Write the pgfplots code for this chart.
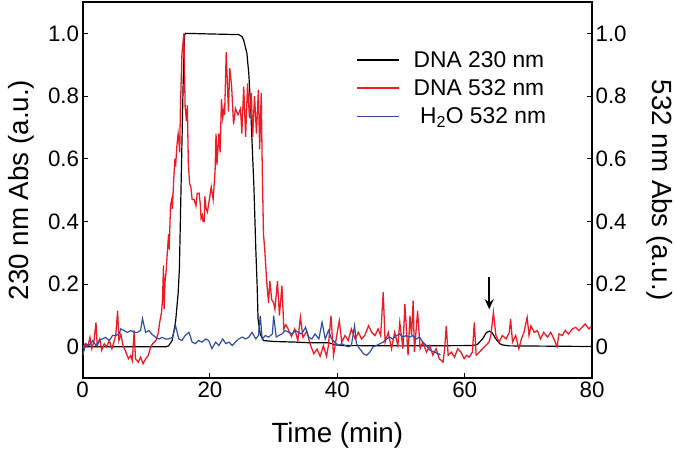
\documentclass[border=0pt]{standalone}
\usepackage{pgfplots}
\pgfplotsset{compat=1.18}
\usepackage{fontspec}
\setmainfont{Liberation Sans}
\usetikzlibrary{arrows.meta}
\definecolor{myred}{RGB}{237,28,36}
\definecolor{myblue}{RGB}{46,77,167}
\begin{document}
\begin{tikzpicture}
\pgfplotsset{
  base/.style={width=512bp, height=378bp, scale only axis,
    xmin=0, xmax=80, ymin=-0.1, ymax=1.1,
    ytick={0,0.2,0.4,0.6,0.8,1.0}, yticklabels={0,0.2,0.4,0.6,0.8,1.0},
    tick align=inside, major tick length=5bp,
    axis line style={line width=2bp},
    every tick/.style={line width=1bp, black},
    tick label style={font=\fontsize{22.5}{26}\selectfont},
    label style={font=\fontsize{28}{32}\selectfont},
    /pgf/number format/assume math mode=true}
}
\begin{axis}[base,
  xtick={0,20,40,60,80}, xtick pos=bottom, ytick pos=left,
  xlabel={Time (min)}, ylabel={230 nm Abs (a.u.)},
  xlabel style={at={(axis description cs:0.5,0)}, yshift=-65bp, anchor=base},
  ylabel style={at={(axis description cs:-0.121,0.5)}, anchor=center},
  legend style={draw=none, fill=none, at={(axis description cs:0.537,0.875)}, anchor=north west,
    font=\fontsize{23}{27}\selectfont, row sep=7bp, inner sep=0pt},
  legend cell align=left,
  legend image post style={line width=1.6bp},
  legend image code/.code={\draw[mark repeat=2,mark phase=2] plot coordinates {(0bp,0bp) (21bp,0bp) (42bp,0bp)}; \path (54bp,0bp);},
]
\addplot[black, line width=1.2bp] coordinates {
(0,0)(13.0,0.0)(13.5,0.003)(14.06,0.02)(14.6,0.08)(15.0,0.17)(15.2,0.25)(15.5,0.55)(15.8,0.85)(16.0,0.995)(16.2,1.0)(20,0.998)(24.5,0.996)(25.0,0.99)(25.3,0.978)(25.8,0.936)(26.1,0.87)(26.35,0.78)(26.9,0.51)(27.2,0.31)(27.4,0.2)(27.55,0.089)(27.9,0.04)(28.4,0.02)(30,0.017)(33.4,0.015)(35.5,0.013)(38.6,0.013)(39.8,0.006)(41,0.004)(50,0.003)(61.3,0.004)(62,0.008)(62.8,0.025)(63.4,0.045)(63.85,0.05)(64.3,0.045)(64.9,0.025)(65.5,0.01)(65.9,0.006)(67,0.003)(80,0.001)
};
\addlegendentry{DNA 230 nm}
\addplot[myred, line width=1.3bp] coordinates {
(0,-0.006)(0.4,0.01)(0.8,0.0)(1.15,0.03)(1.45,-0.006)(1.8,0.02)(2.1,0.078)(2.3,0.004)(2.7,0.025)(3.0,-0.011)(3.4,0.01)(3.75,0.0)(4.2,0.02)(4.6,-0.006)(4.9,0.015)(5.2,0.036)(5.5,0.115)(5.7,0.02)(6.0,0.04)(6.35,0.004)(6.8,-0.017)(7.2,-0.038)(7.55,-0.028)(7.8,-0.044)(8.1,0.052)(8.3,-0.038)(8.75,-0.049)(9.1,-0.033)(9.5,-0.054)(9.9,-0.038)(10.3,-0.028)(10.7,0.0)(11.0,0.01)(11.5,0.02)(11.9,0.046)(12.1,0.078)(12.4,0.11)(12.55,0.152)(12.7,0.26)(12.8,0.12)(12.95,0.21)(13.1,0.237)(13.3,0.30)(13.5,0.36)(13.6,0.31)(13.8,0.45)(14.0,0.47)(14.1,0.44)(14.3,0.53)(14.5,0.60)(14.6,0.575)(14.8,0.64)(15.0,0.68)(15.1,0.66)(15.25,0.62)(15.35,0.755)(15.6,0.935)(15.9,1.0)(16.1,0.766)(16.3,0.72)(16.45,0.77)(16.6,0.586)(16.8,0.52)(17.0,0.51)(17.2,0.47)(17.5,0.47)(17.8,0.45)(18.0,0.49)(18.3,0.49)(18.5,0.45)(18.6,0.41)(18.8,0.42)(18.9,0.40)(19.1,0.40)(19.2,0.48)(19.4,0.44)(19.6,0.43)(19.9,0.47)(20.2,0.51)(20.5,0.47)(20.8,0.56)(20.95,0.68)(21.1,0.58)(21.4,0.68)(21.6,0.62)(21.8,0.79)(22.0,0.73)(22.2,0.76)(22.3,0.74)(22.55,0.94)(22.9,0.75)(23.1,0.89)(23.4,0.83)(23.7,0.71)(24.0,0.76)(24.4,0.74)(24.8,0.76)(25.0,0.68)(25.3,0.83)(25.6,0.67)(25.9,0.84)(26.2,0.73)(26.5,0.81)(26.7,0.67)(27.0,0.80)(27.3,0.68)(27.6,0.82)(27.8,0.63)(28.05,0.81)(28.2,0.58)(28.4,0.36)(28.6,0.31)(28.9,0.21)(29.2,0.14)(29.4,0.21)(29.7,0.15)(30.0,0.14)(30.2,0.12)(30.6,0.21)(30.9,0.10)(31.3,0.195)(31.6,0.057)(31.9,0.07)(32.2,0.06)(32.5,0.045)(32.8,0.033)(33.3,0.057)(33.8,0.02)(34.2,0.095)(34.6,0.03)(35.2,0.05)(35.7,0.01)(36.3,-0.022)(36.8,-0.007)(37.3,-0.03)(37.8,0.003)(38.3,-0.03)(38.6,0.004)(39.0,0.099)(39.4,-0.027)(39.9,0.036)(40.3,0.083)(40.7,0.015)(41.2,0.036)(41.7,0.02)(42.2,0.057)(42.8,0.025)(43.3,0.046)(43.8,0.025)(44.3,0.036)(44.9,0.067)(45.4,0.046)(45.9,0.036)(46.4,0.057)(46.8,0.036)(47.2,0.174)(47.5,0.015)(48.0,0.046)(48.5,-0.006)(49.0,0.046)(49.5,0.004)(49.8,0.078)(50.3,-0.006)(50.6,0.136)(51.1,-0.027)(51.4,0.099)(51.65,0.036)(51.9,0.147)(52.1,-0.017)(52.6,0.115)(53.0,-0.006)(53.4,0.015)(54.0,-0.017)(54.5,0.004)(55.0,-0.027)(55.5,-0.006)(56.0,-0.038)(56.6,-0.049)(56.85,-0.006)(57.1,0.067)(57.4,-0.027)(57.9,-0.017)(58.4,-0.033)(58.9,-0.006)(59.4,-0.017)(59.9,-0.038)(60.3,-0.027)(60.7,-0.033)(61.2,-0.017)(61.5,0.078)(61.8,-0.027)(62.3,-0.017)(62.8,-0.006)(63.3,0.004)(63.8,0.015)(64.1,0.036)(64.5,0.11)(64.9,0.036)(65.4,0.015)(65.9,0.036)(66.5,0.025)(67.0,0.046)(67.2,0.089)(67.5,0.015)(68.0,0.036)(68.5,-0.006)(68.9,0.025)(69.3,0.046)(69.8,0.094)(70.1,0.036)(70.4,0.067)(70.9,0.046)(71.4,0.052)(71.9,0.025)(72.4,0.046)(73.0,0.031)(73.5,0.046)(74.0,0.025)(74.5,0.0)(74.8,0.041)(75.3,0.036)(75.8,0.052)(76.3,0.041)(76.9,0.057)(77.4,0.062)(77.9,0.052)(78.4,0.062)(78.9,0.073)(79.5,0.057)(80.0,0.067)
};
\addlegendentry{DNA 532 nm}
\addplot[myblue, line width=1.2bp] coordinates {
(0,-0.028)(0.5,0.01)(1.0,0.004)(1.6,0.02)(2.1,0.004)(2.6,0.02)(3.1,0.025)(3.6,0.03)(4.2,0.02)(4.7,0.036)(5.2,0.036)(5.7,0.04)(6.0,0.057)(6.5,0.052)(7.0,0.046)(7.6,0.052)(8.1,0.046)(8.6,0.046)(9.1,0.052)(9.4,0.09)(9.9,0.046)(10.4,0.052)(10.9,0.04)(11.5,0.03)(12.0,0.025)(12.5,0.03)(13.0,0.025)(13.5,0.025)(14.1,0.03)(14.6,0.068)(15.1,0.025)(15.6,0.02)(16.1,0.036)(16.7,0.046)(17.2,0.015)(17.7,0.01)(18.2,0.02)(18.75,0.015)(19.3,0.025)(19.8,0.02)(20.3,-0.006)(20.9,0.015)(21.4,0.004)(22.0,0.025)(22.5,0.01)(23.0,0.015)(23.5,0.004)(24.0,0.015)(24.5,0.025)(25.1,0.031)(25.6,0.025)(26.1,0.031)(26.6,0.046)(27.2,0.025)(27.6,0.036)(27.9,0.099)(28.2,0.025)(28.7,0.036)(29.2,0.031)(29.8,0.041)(30.0,0.099)(30.4,0.031)(30.8,0.036)(31.3,0.041)(31.8,0.052)(32.4,0.046)(32.9,0.041)(33.4,0.052)(33.9,0.046)(34.4,0.041)(35.0,0.062)(35.5,0.031)(36.0,0.025)(36.5,0.041)(37.1,0.025)(37.6,0.078)(38.1,0.025)(38.6,0.052)(39.1,0.025)(39.6,0.015)(40.2,0.004)(40.7,0.01)(41.2,0.004)(41.7,0.0)(42.2,0.004)(42.7,0.067)(43.0,0.01)(43.5,-0.006)(44.1,-0.022)(44.6,-0.027)(45.1,-0.017)(45.6,0.0)(46.1,0.004)(46.7,0.01)(47.2,0.015)(47.7,0.025)(48.2,0.031)(48.7,0.025)(49.3,0.036)(49.8,0.041)(50.3,0.031)(50.8,0.036)(51.4,0.031)(51.9,0.036)(52.4,0.025)(52.9,0.031)(53.4,0.015)(54.0,0.004)(54.5,-0.01)(55.0,-0.015)(55.6,-0.02)(56.2,-0.025)
};
\addlegendentry{\ H\textsubscript{2}O 532 nm}
\draw[-{Stealth[length=10bp,width=9bp]}, line width=1.8bp] (axis cs:63.85,0.222) -- (axis cs:63.85,0.12);
\end{axis}
\begin{axis}[base,
  axis x line=none, axis y line*=right, ytick pos=right,
  ylabel={532 nm Abs (a.u.)},
  ylabel style={at={(axis description cs:1.1328,0.5)}, anchor=center, rotate=180},
]
\end{axis}
\path[use as bounding box] (-83bp,-72bp) rectangle (593bp,380bp);
\end{tikzpicture}
\end{document}
